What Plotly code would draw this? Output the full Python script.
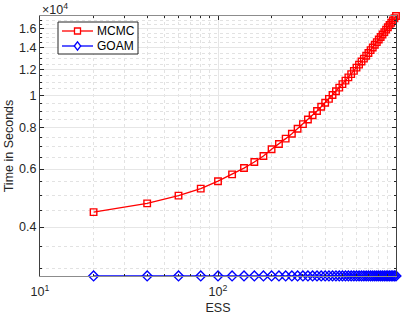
import plotly.graph_objects as go

ess = list(range(20, 1001, 20))
mcmc = [4440, 4720, 4980, 5230, 5510, 5780, 6040, 6300, 6570, 6890,
        7150, 7420, 7680, 7950, 8210, 8480, 8740, 9000, 9270, 9540,
        9800, 10070, 10330, 10600, 10860, 11130, 11390, 11650, 11920, 12190,
        12450, 12720, 12980, 13250, 13510, 13780, 14040, 14310, 14570, 14840,
        15100, 15370, 15630, 15900, 16160, 16430, 16690, 16960, 17220, 17490]
goam = [2840] * len(ess)
series_names = ["MCMC", "GOAM"]
series_colors = ["#ff0000", "#0000ff"]

y_tickvals = [4000, 6000, 8000, 10000, 12000, 14000, 16000]
y_ticktext = ["0.4", "0.6", "0.8", "1", "1.2", "1.4", "1.6"]
y_minor = [3000, 3500, 4500, 5000, 5500, 6500, 7000, 7500, 8500, 9000, 9500,
           10500, 11000, 11500, 12500, 13000, 13500, 14500, 15000, 15500, 16500, 17000]
x_tickvals = [10, 100, 1000]
x_ticktext = ["10<sup>1</sup>", "10<sup>2</sup>", "10<sup>3</sup>"]
x_minor = [20, 30, 40, 50, 60, 70, 80, 90, 200, 300, 400, 500, 600, 700, 800, 900]

font = "Liberation Sans, Arial, sans-serif"
W, H = 405, 315
ML, MR, MT, MB = 40, 9, 16, 39
PW, PH = W - ML - MR, H - MT - MB


def px2paper(px, py):
    return (px - ML) / PW, 1 - (py - MT) / PH


fig = go.Figure()
fig.add_trace(go.Scatter(x=ess, y=mcmc, name=series_names[0], mode="lines+markers",
                         line=dict(color=series_colors[0], width=1.3),
                         marker=dict(symbol="square-open", size=6.5, color=series_colors[0],
                                     line=dict(width=1.4, color=series_colors[0])),
                         cliponaxis=False, showlegend=False))
fig.add_trace(go.Scatter(x=ess, y=goam, name=series_names[1], mode="lines+markers",
                         line=dict(color=series_colors[1], width=1.3),
                         marker=dict(symbol="diamond-open", size=7.5, color=series_colors[1],
                                     line=dict(width=1.4, color=series_colors[1])),
                         cliponaxis=False, showlegend=False))

fig.update_layout(
    width=W, height=H,
    margin=dict(l=ML, r=MR, t=MT, b=MB),
    paper_bgcolor="white", plot_bgcolor="white",
    font=dict(family=font, size=12.5, color="#262626"),
    showlegend=False,
    xaxis=dict(type="log", range=[1, 3], automargin=False,
               tickvals=x_tickvals, ticktext=x_ticktext,
               ticks="inside", ticklen=4, tickcolor="#262626",
               ticklabelstandoff=4,
               showline=True, linecolor="#8c8c8c", linewidth=1, mirror="ticks",
               showgrid=True, gridcolor="#e6e6e6", gridwidth=1,
               zeroline=False,
               title=dict(text="ESS", standoff=10, font=dict(size=12.5)),
               tickfont=dict(size=12.5),
               minor=dict(tickvals=x_minor, ticks="inside", ticklen=2,
                          tickcolor="#262626",
                          showgrid=True, gridcolor="#e2e2e2", griddash="dot", gridwidth=1)),
    yaxis=dict(type="log", range=[3.4533, 4.2428], automargin=False,
               tickvals=y_tickvals, ticktext=y_ticktext,
               ticks="inside", ticklen=4, tickcolor="#262626",
               showline=True, linecolor="#404040", linewidth=1, mirror="ticks",
               showgrid=True, gridcolor="#e6e6e6", gridwidth=1,
               zeroline=False,
               title=dict(text="Time in Seconds", standoff=2, font=dict(size=12.5)),
               tickfont=dict(size=12.5),
               minor=dict(tickvals=y_minor, ticks="inside", ticklen=2,
                          tickcolor="#262626",
                          showgrid=True, gridcolor="#e2e2e2", griddash="dot", gridwidth=1)),
)

fig.add_annotation(text="\u00d710<sup>4</sup>", xref="paper", yref="paper",
                   x=0.0, y=1.0, xanchor="left", yanchor="bottom",
                   showarrow=False, font=dict(size=12.5, color="#262626"), yshift=-3)

# custom legend (box, line samples, symbols, labels)
bx0, by0 = px2paper(58, 22)
bx1, by1 = px2paper(138, 54)
fig.add_shape(type="rect", xref="paper", yref="paper", x0=bx0, y0=by1, x1=bx1, y1=by0,
              line=dict(color="#262626", width=1), fillcolor="white", layer="above")
rows_py = [31, 46]
for i, (name, col) in enumerate(zip(series_names, series_colors)):
    py = rows_py[i]
    lx0, ly = px2paper(62, py)
    lx1, _ = px2paper(93, py)
    mx, _ = px2paper(77.5, py)
    fig.add_shape(type="line", xref="paper", yref="paper", x0=lx0, x1=lx1, y0=ly, y1=ly,
                  line=dict(color=col, width=1.3), layer="above")
    if i == 0:
        dx, dy = 3 / PW, 3 / PH
        fig.add_shape(type="rect", xref="paper", yref="paper",
                      x0=mx - dx, x1=mx + dx, y0=ly - dy, y1=ly + dy,
                      line=dict(color=col, width=1.3), fillcolor="white", layer="above")
    else:
        dx, dy = 3.2 / PW, 4.2 / PH
        path = (f"M {mx - dx},{ly} L {mx},{ly + dy} L {mx + dx},{ly} "
                f"L {mx},{ly - dy} Z")
        fig.add_shape(type="path", xref="paper", yref="paper", path=path,
                      line=dict(color=col, width=1.3), fillcolor="white", layer="above")
    tx, _ = px2paper(95, py)
    fig.add_annotation(text=name, xref="paper", yref="paper", x=tx, y=ly,
                       xanchor="left", yanchor="middle", showarrow=False,
                       font=dict(size=12, color="#000000"))

fig.write_html("out.html", config={"displayModeBar": False},
               post_script="document.body.style.margin='0';")
